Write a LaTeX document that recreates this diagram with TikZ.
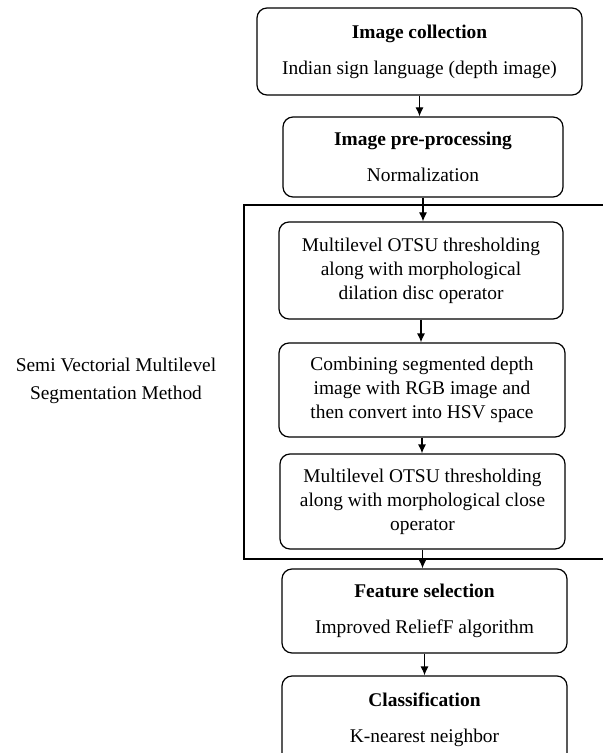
\documentclass[tikz,border=0pt]{standalone}
\usepackage{fontspec}
\setmainfont{Liberation Serif}
\usetikzlibrary{shapes,backgrounds}
\usetikzlibrary{arrows,arrows.meta}

\begin{document}
\begin{tikzpicture}[x=0.5pt,y=-0.5pt,
  stage/.style={draw,rounded corners=5pt,line width=0.6pt,align=center,inner sep=0pt,
    font=\fontsize{9.7}{12}\selectfont},
  link/.style={-{Latex[length=4.5pt,width=4pt]},line width=0.6pt}]
\useasboundingbox (0,0) rectangle (603,753);
\clip (0,0) rectangle (603,753);
\node[stage,minimum width=162.5pt,minimum height=43.5pt] (collect) at (419.5,51.5)
  {\textbf{Image collection}\\[6pt]Indian sign language (depth image)};
\node[stage,minimum width=140pt,minimum height=40pt] (prep) at (423,157)
  {\textbf{Image pre-processing}\\[6pt]Normalization};
\node[stage,minimum width=142pt,minimum height=48.5pt] (otsua) at (421,270.5)
  {Multilevel OTSU thresholding\\along with morphological\\dilation disc operator};
\node[stage,minimum width=143pt,minimum height=47pt] (hsv) at (422,390)
  {Combining segmented depth\\image with RGB image and\\then convert into HSV space};
\node[stage,minimum width=142.5pt,minimum height=47.5pt] (otsub) at (422.5,501.5)
  {Multilevel OTSU thresholding\\along with morphological close\\operator};
\node[stage,minimum width=142.5pt,minimum height=42pt] (feat) at (424.5,611)
  {\textbf{Feature selection}\\[6pt]Improved ReliefF algorithm};
\node[stage,minimum width=142.5pt,minimum height=44pt] (classify) at (424.5,720)
  {\textbf{Classification}\\[6pt]K-nearest neighbor};
\draw[line width=0.6pt] (603,205) -- (244,205) -- (244,559) -- (603,559);
\node[align=center,font=\fontsize{9.7}{12}\selectfont] (seg) at (116,381)
  {Semi Vectorial Multilevel\\[2pt]Segmentation Method};
\draw[link] (collect.south) -- (collect.south |- prep.north);
\draw[link] (prep.south) -- (prep.south |- otsua.north);
\draw[link] (otsua.south) -- (otsua.south |- hsv.north);
\draw[link] (hsv.south) -- (hsv.south |- otsub.north);
\draw[link] (otsub.south) -- (otsub.south |- feat.north);
\draw[link] (feat.south) -- (feat.south |- classify.north);
\end{tikzpicture}
\end{document}
